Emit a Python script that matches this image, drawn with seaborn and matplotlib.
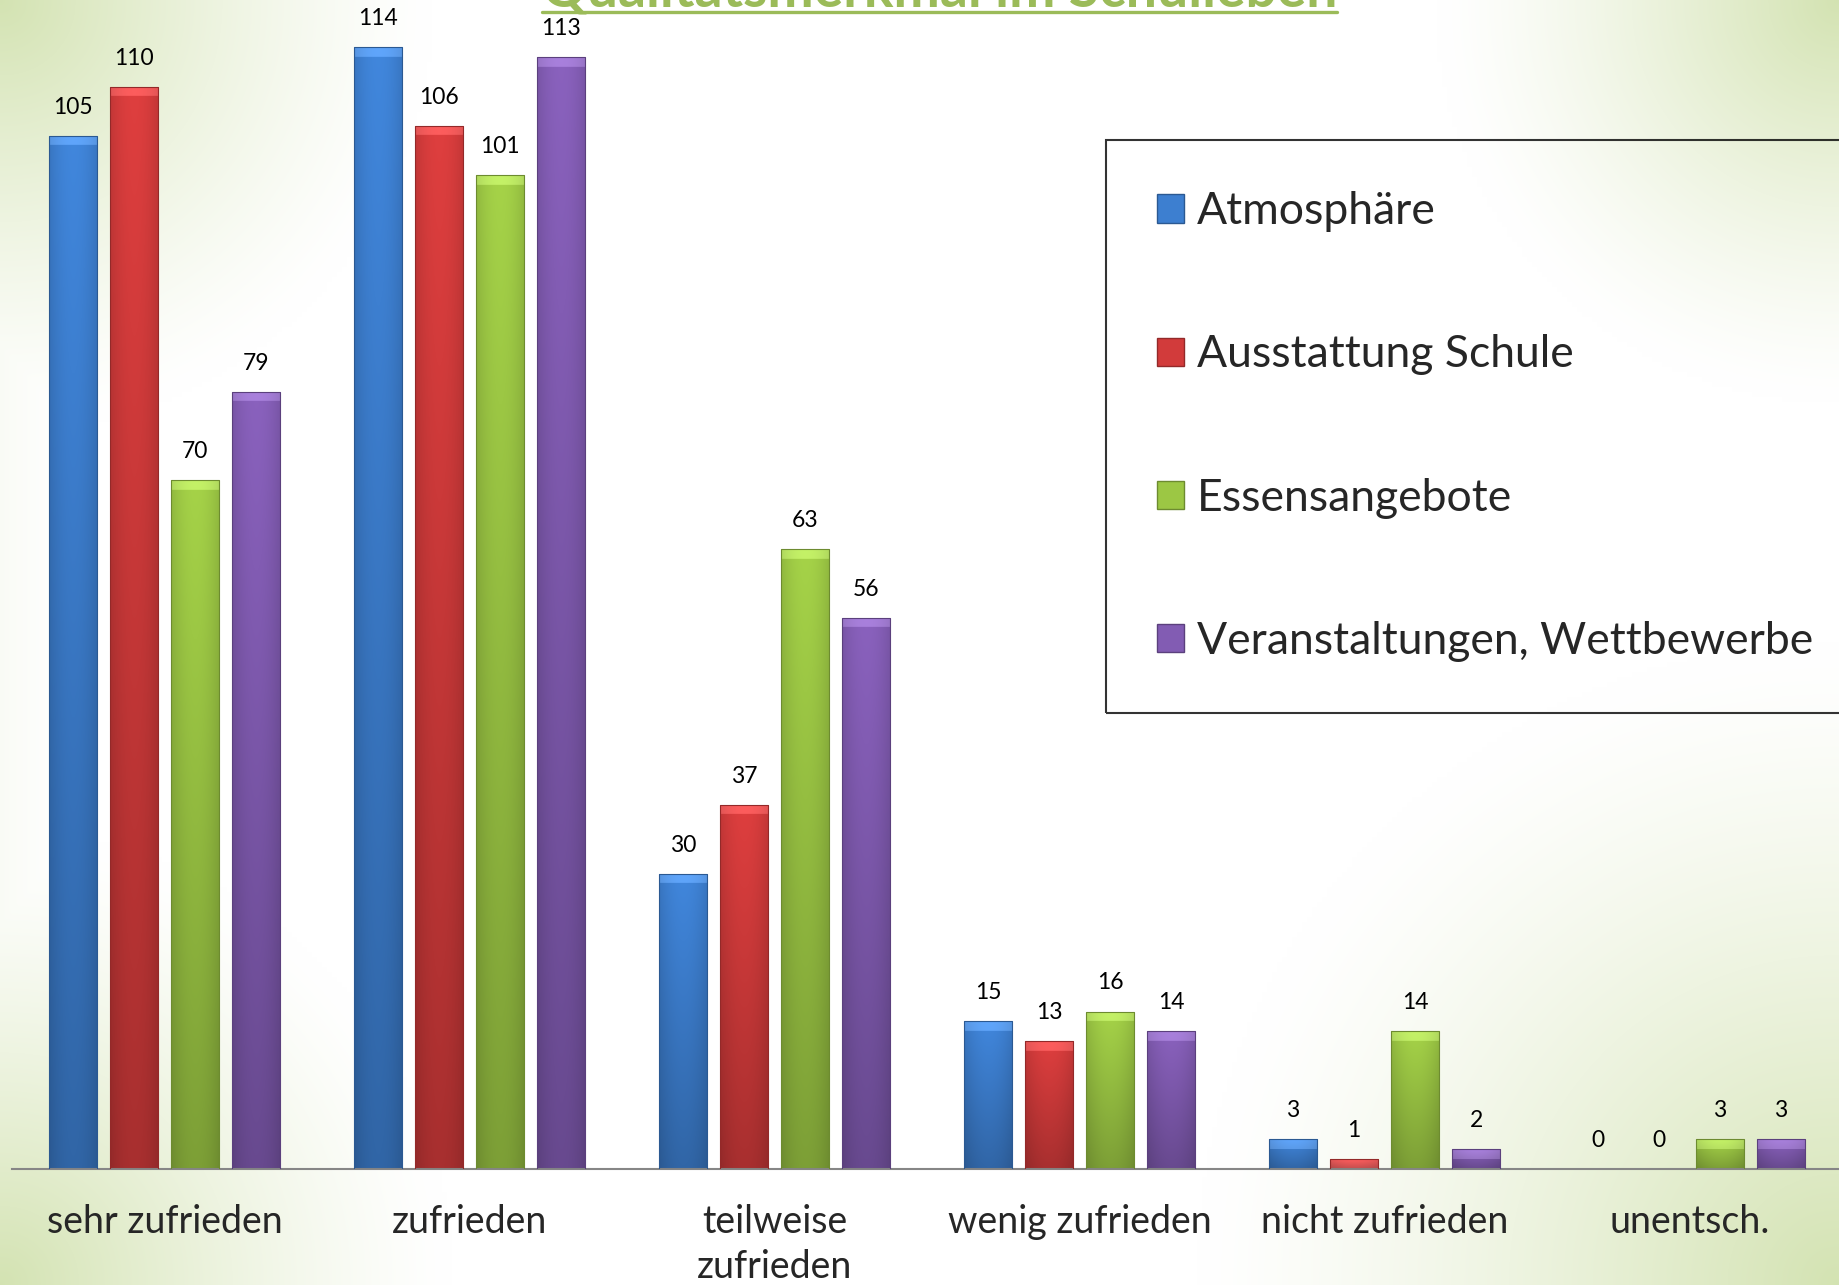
import matplotlib.pyplot as plt
import numpy as np
import pandas as pd
import seaborn as sns
from matplotlib.lines import Line2D
from matplotlib.colors import to_rgb

categories = ["sehr zufrieden", "zufrieden", "teilweise\nzufrieden",
              "wenig zufrieden", "nicht zufrieden", "unentsch."]
series = ["Atmosphäre", "Ausstattung Schule", "Essensangebote",
          "Veranstaltungen, Wettbewerbe"]
atmosphaere = [105, 114, 30, 15, 3, 0]
ausstattung = [110, 106, 37, 13, 1, 0]
essen = [70, 101, 63, 16, 14, 3]
veranstaltungen = [79, 113, 56, 14, 2, 3]
colors = ["#3D7FD0", "#D23B3B", "#9CC744", "#825CB3"]
title = "Qualitätsmerkmal im Schulleben"

sns.set_theme(style="white")
plt.rcParams["font.family"] = ["Lato", "DejaVu Sans"]

df = pd.DataFrame({"Kategorie": categories, series[0]: atmosphaere,
                   series[1]: ausstattung, series[2]: essen,
                   series[3]: veranstaltungen})
df = df.melt(id_vars="Kategorie", var_name="Merkmal", value_name="Anzahl")

W, H = 1839, 1285
fig = plt.figure(figsize=(W / 100, H / 100), dpi=100)

# background: white with soft green corners
gx, gy = np.meshgrid(np.linspace(0, W, 368), np.linspace(0, H, 257))
glow = np.zeros_like(gx)
for cx, cy, r in [(0, 0, 430), (W, 0, 400), (0, H, 450), (W, H, 640)]:
    d = np.hypot(gx - cx, gy - cy)
    glow = np.maximum(glow, np.clip(1 - d / r, 0, 1) ** 1.3)
edge = np.clip(1 - gx / 60, 0, 1) * 0.12
glow = np.maximum(glow, edge)
green = np.array([0.83, 0.89, 0.70])
bg_img = 1 - glow[..., None] * (1 - green)
bg = fig.add_axes([0, 0, 1, 1], zorder=0)
bg.imshow(bg_img, extent=[0, 1, 0, 1], aspect="auto", interpolation="bilinear")
bg.axis("off")

ax = fig.add_axes([0.0065, 0.0903, 0.9935, 0.9097], zorder=1)
ax.set_facecolor("none")
sns.barplot(data=df, x="Kategorie", y="Anzahl", hue="Merkmal", palette=colors,
            width=0.8, gap=0.2, ax=ax, saturation=1)

leg = ax.get_legend()
handles = leg.legend_handles
labels = [t.get_text() for t in leg.get_texts()]
leg.remove()

# gradient fill clipped to each bar
for cont, col in zip(ax.containers, colors):
    base = np.array(to_rgb(col))
    for bar in cont:
        h = bar.get_height()
        if h <= 0:
            continue
        x0, w = bar.get_x(), bar.get_width()
        nr = max(int(h * 10), 4)
        v = np.linspace(1.06, 0.80, nr)[:, None]
        u = np.linspace(-1, 1, 30)[None, :]
        hz = 1 - 0.12 * u ** 2
        fac = v * hz
        bev = min(1.0, 1.0 / h)
        top = (np.linspace(0, 1, nr)[:, None] < bev) * 0.12
        arr = np.clip(base[None, None, :] * fac[..., None] + top[..., None], 0, 1)
        im = ax.imshow(arr, extent=[x0, x0 + w, 0, h], aspect="auto",
                       interpolation="bilinear", zorder=2)
        im.set_clip_path(bar)
        bar.set_facecolor("none")
        bar.set_edgecolor(tuple(base * 0.7))
        bar.set_linewidth(0.8)
        bar.set_zorder(3)
    ax.bar_label(cont, padding=13, fontsize=16.5, color="black")

ax.set_xlim(-0.5, 5.49)
ax.set_ylim(0, 118.8)
ax.set_xlabel("")
ax.set_ylabel("")
ax.set_yticks([])
ax.tick_params(axis="x", length=0, pad=25, labelsize=27)
for lab in ax.get_xticklabels():
    lab.set_linespacing(1.33)
for s in ["left", "top", "right"]:
    ax.spines[s].set_visible(False)
ax.spines["bottom"].set_color("#868686")
ax.spines["bottom"].set_linewidth(1.5)

for hd, col in zip(handles, colors):
    hd.set_facecolor(col)
    hd.set_edgecolor(tuple(np.array(to_rgb(col)) * 0.7))
lg = fig.legend(handles, labels, loc="upper left", bbox_to_anchor=(0.6014, 0.891),
                fontsize=32, labelspacing=2.3, borderpad=1.15, handlelength=0.6,
                handleheight=0.6, handletextpad=0.3, borderaxespad=0,
                fancybox=False, edgecolor="black", facecolor="none", framealpha=None)
lg.get_frame().set_linewidth(1.5)
lg.set_zorder(5)

# title cut off at the top, with underline
t = fig.text(0.511, 1 - 6 / H, title, ha="center", va="baseline",
             color="#9BBB59", fontweight="bold", fontsize=30)
rend = fig.canvas.get_renderer()
bb = t.get_window_extent(rend)
t.set_fontsize(30 * 794 / bb.width)
bb = t.get_window_extent(rend)
fig.add_artist(Line2D([bb.x0 / W, bb.x1 / W], [1 - 12 / H, 1 - 12 / H],
                      color="#9BBB59", linewidth=2.4, transform=fig.transFigure))

fig.savefig("out.png", dpi=100)
